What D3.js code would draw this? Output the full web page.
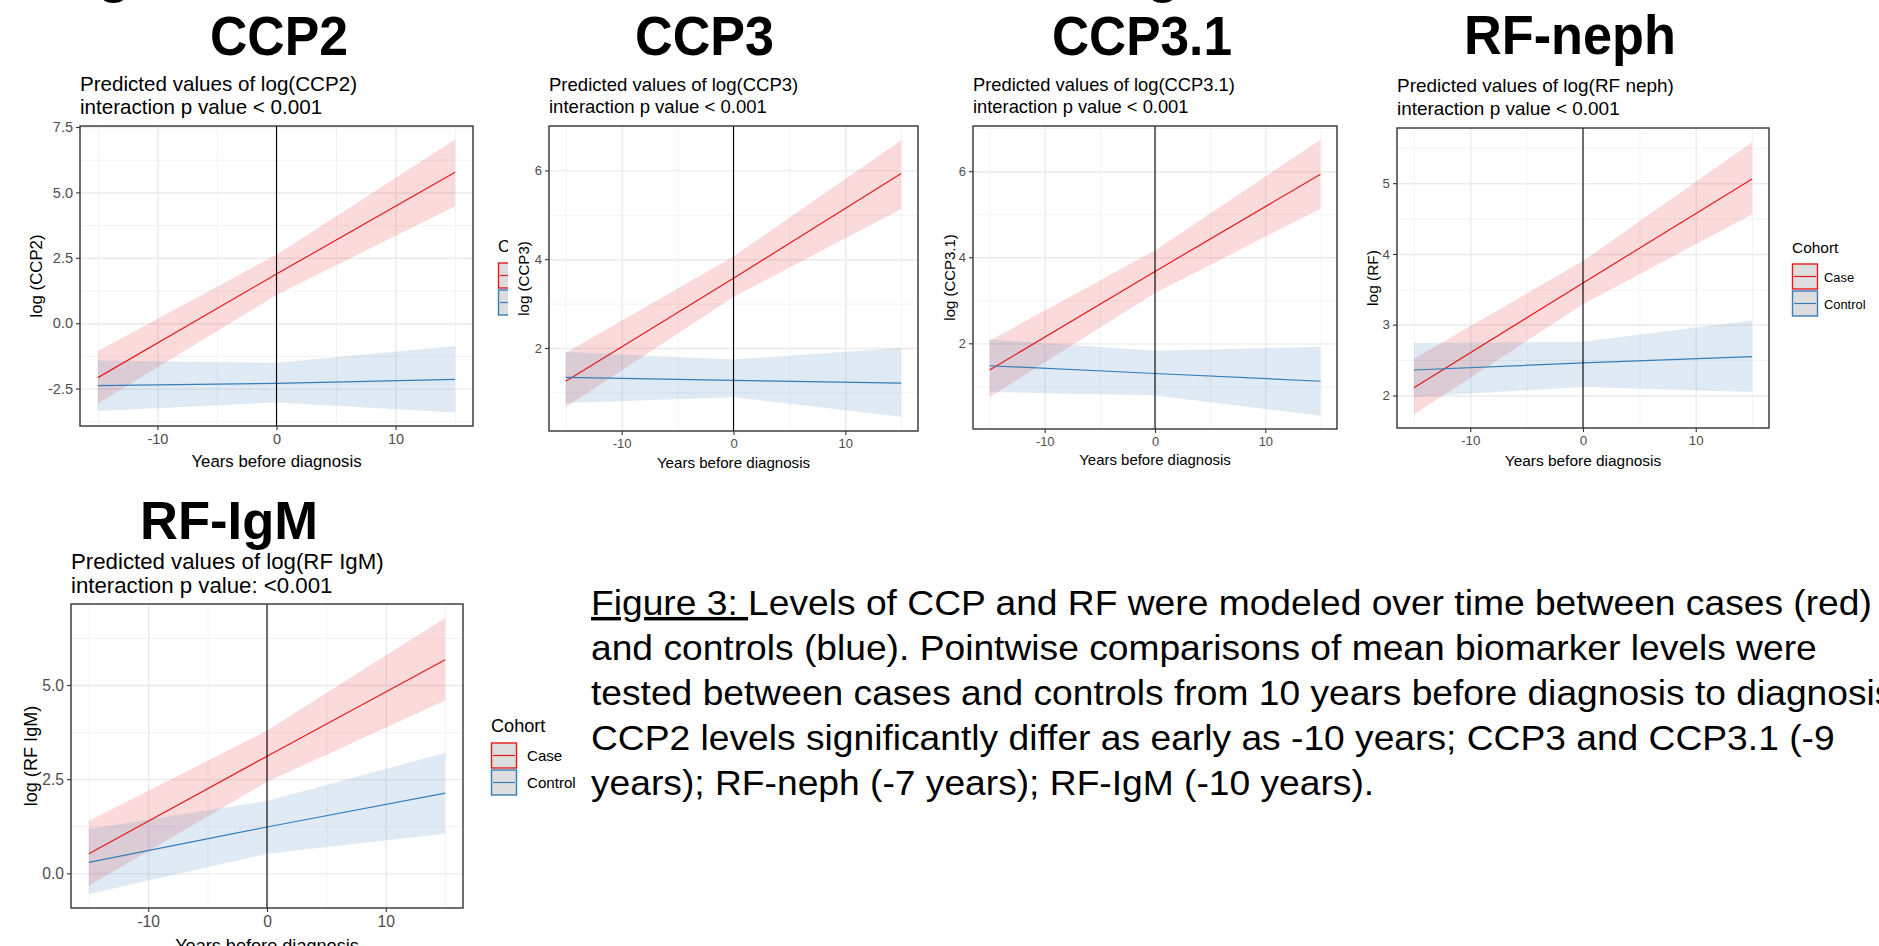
<!DOCTYPE html>
<html>
<head>
<meta charset="utf-8">
<script src="https://cdn.jsdelivr.net/npm/d3@7"></script>
<style>
  body { margin: 0; background: #fff; }
  text { font-family: "Liberation Sans", Arial, sans-serif; }
</style>
</head>
<body>
<div id="chart"></div>
<script>
const years = [-15, 0, 15];
const xTicks = [-10, 0, 10];
const xMinor = [-15, -5, 5, 15];

// CCP2
const ccp2CaseFit = [-2.08, 1.88, 5.77];
const ccp2CaseLow = [-3.07, 1.08, 4.47];
const ccp2CaseHigh = [-1.06, 2.62, 7.02];
const ccp2CtrlFit = [-2.39, -2.30, -2.15];
const ccp2CtrlLow = [-3.36, -3.03, -3.41];
const ccp2CtrlHigh = [-1.43, -1.51, -0.87];
const ccp2Ticks = [-2.5, 0, 2.5, 5, 7.5];
const ccp2Minor = [-3.75, -1.25, 1.25, 3.75, 6.25];

// CCP3
const ccp3CaseFit = [1.25, 3.57, 5.93];
const ccp3CaseLow = [0.67, 3.15, 5.13];
const ccp3CaseHigh = [1.89, 4.06, 6.68];
const ccp3CtrlFit = [1.34, 1.27, 1.21];
const ccp3CtrlLow = [0.76, 0.89, 0.45];
const ccp3CtrlHigh = [1.91, 1.74, 2.00];
const ccp3Ticks = [2, 4, 6];
const ccp3Minor = [1, 3, 5, 7];

// CCP3.1
const ccp31CaseFit = [1.38, 3.67, 5.93];
const ccp31CaseLow = [0.75, 3.17, 5.13];
const ccp31CaseHigh = [2.06, 4.16, 6.73];
const ccp31CtrlFit = [1.48, 1.30, 1.12];
const ccp31CtrlLow = [0.87, 0.79, 0.32];
const ccp31CtrlHigh = [2.09, 1.83, 1.92];
const ccp31Ticks = [2, 4, 6];
const ccp31Minor = [1, 3, 5, 7];

// RF-neph
const rfnCaseFit = [2.11, 3.59, 5.06];
const rfnCaseLow = [1.73, 3.29, 4.56];
const rfnCaseHigh = [2.52, 3.90, 5.58];
const rfnCtrlFit = [2.36, 2.46, 2.55];
const rfnCtrlLow = [1.98, 2.12, 2.05];
const rfnCtrlHigh = [2.74, 2.76, 3.06];
const rfnTicks = [2, 3, 4, 5];
const rfnMinor = [2.5, 3.5, 4.5, 5.5];

// RF-IgM
const rfmCaseFit = [0.52, 3.11, 5.67];
const rfmCaseLow = [-0.33, 2.43, 4.59];
const rfmCaseHigh = [1.39, 3.79, 6.78];
const rfmCtrlFit = [0.29, 1.23, 2.13];
const rfmCtrlLow = [-0.55, 0.52, 1.05];
const rfmCtrlHigh = [1.18, 1.92, 3.20];
const rfmTicks = [0, 2.5, 5];
const rfmMinor = [1.25, 3.75, 6.25];

const cohorts = ['Case', 'Control'];
const captionLines = [
    'Levels of CCP and RF were modeled over time between cases (red)',
    'and controls (blue). Pointwise comparisons of mean biomarker levels were',
    'tested between cases and controls from 10 years before diagnosis to diagnosis.',
    'CCP2 levels significantly differ as early as -10 years; CCP3 and CCP3.1 (-9',
    'years); RF-neph (-7 years); RF-IgM (-10 years).'
];

const RED = '#E41A1C', BLUE = '#377EB8';

const svg = d3.select('#chart').append('svg')
    .attr('width', 1879).attr('height', 946)
    .style('display', 'block');
svg.append('rect').attr('width', 1879).attr('height', 946).attr('fill', '#fff');

// bits of the cut-off heading above the figure (only descenders show)
[114, 1163].forEach(cx => {
    svg.append('text').attr('x', cx).attr('y', -9).attr('text-anchor', 'middle')
        .style('font-size', '55px').style('font-weight', 'bold').text('g');
});

const hy = v => String(v).replace('\u2212', '-');
const fmt1 = d => hy(d3.format('.1f')(d));
const fmt0 = d => hy(d3.format('d')(d));

function zip(fit, low, high) {
    return years.map((yr, i) => ({ yr, fit: fit[i], low: low[i], high: high[i] }));
}

function drawPanel(p) {
    const k = p.k;
    const x = d3.scaleLinear().domain([-16.5, 16.5]).range([p.left, p.right]);
    const y = d3.scaleLinear().domain(p.yDomain).range([p.bottom, p.top]);
    const w = p.right - p.left, h = p.bottom - p.top;
    const g = svg.append('g');

    g.append('rect').attr('x', p.left).attr('y', p.top).attr('width', w).attr('height', h).attr('fill', '#fff');

    // gridlines: minor then major
    const gridY = (vals, col, sw) => g.append('g').attr('transform', `translate(${p.left},0)`)
        .call(d3.axisLeft(y).tickValues(vals.filter(v => v >= p.yDomain[0] && v <= p.yDomain[1])).tickSize(-w).tickFormat(''))
        .call(s => s.select('.domain').remove())
        .selectAll('line').attr('stroke', col).attr('stroke-width', sw);
    const gridX = (vals, col, sw) => g.append('g').attr('transform', `translate(0,${p.bottom})`)
        .call(d3.axisBottom(x).tickValues(vals).tickSize(-h).tickFormat(''))
        .call(s => s.select('.domain').remove())
        .selectAll('line').attr('stroke', col).attr('stroke-width', sw);
    gridY(p.yMinor, '#F2F2F2', 1);
    gridX(xMinor, '#F2F2F2', 1);
    gridY(p.yTicks, '#EBEBEB', 1.4);
    gridX(xTicks, '#EBEBEB', 1.4);

    const area = d3.area().x(d => x(d.yr)).y0(d => y(d.low)).y1(d => y(d.high));
    const line = d3.line().x(d => x(d.yr)).y(d => y(d.fit));
    const series = [
        { data: zip(p.caseFit, p.caseLow, p.caseHigh), col: RED },
        { data: zip(p.ctrlFit, p.ctrlLow, p.ctrlHigh), col: BLUE }
    ];
    series.forEach(s => {
        g.append('path').datum(s.data).attr('d', area).attr('fill', s.col).attr('fill-opacity', 0.16);
    });
    series.forEach(s => {
        g.append('path').datum(s.data).attr('d', line).attr('fill', 'none')
            .attr('stroke', s.col).attr('stroke-width', 1.2);
    });

    // vertical line at diagnosis
    g.append('line').attr('x1', x(0)).attr('x2', x(0)).attr('y1', p.top).attr('y2', p.bottom)
        .attr('stroke', '#000').attr('stroke-width', 1.1);

    // axes
    const ax = g.append('g').attr('transform', `translate(${p.left},0)`)
        .call(d3.axisLeft(y).tickValues(p.yTicks).tickSize(4).tickPadding(3).tickFormat(p.fmt));
    const bx = g.append('g').attr('transform', `translate(0,${p.bottom})`)
        .call(d3.axisBottom(x).tickValues(xTicks).tickSize(4).tickPadding(4).tickFormat(fmt0));
    [ax, bx].forEach(a => {
        a.select('.domain').remove();
        a.selectAll('line').attr('stroke', '#333').attr('stroke-width', 1.1);
        a.selectAll('text').attr('fill', '#4D4D4D').style('font-size', (14.5 * k) + 'px')
            .style('font-family', '"Liberation Sans", Arial, sans-serif');
    });

    g.append('rect').attr('x', p.left).attr('y', p.top).attr('width', w).attr('height', h)
        .attr('fill', 'none').attr('stroke', '#333').attr('stroke-width', 1.4);

    // titles
    g.append('text').attr('x', (p.left + p.right) / 2).attr('y', p.bottom + 41 * k).attr('text-anchor', 'middle')
        .style('font-size', (16.8 * k) + 'px').attr('fill', '#000').text('Years before diagnosis');
    g.append('text').attr('transform', `translate(${p.yTitleX},${(p.top + p.bottom) / 2}) rotate(-90)`)
        .attr('text-anchor', 'middle').style('font-size', (16.8 * k) + 'px').text(p.yTitle);
    p.subtitle.forEach((t, i) => {
        g.append('text').attr('x', p.left).attr('y', p.subY + i * p.subGap)
            .style('font-size', (20.6 * k) + 'px').text(t);
    });
    g.append('text').attr('x', p.bigX - p.bigW / 2).attr('y', p.bigY)
        .attr('textLength', p.bigW).attr('lengthAdjust', 'spacingAndGlyphs')
        .style('font-size', p.bigSize + 'px').style('font-weight', 'bold').text(p.big);
}

function drawLegend(lx, ly, k, labelDx, clipW) {
    const g = svg.append('g');
    if (clipW) {
        // only the left edge of this legend shows from behind the next plot
        svg.append('clipPath').attr('id', 'legclip').append('rect')
            .attr('x', lx - 5).attr('y', ly - 30).attr('width', clipW + 5).attr('height', 120);
        g.attr('clip-path', 'url(#legclip)');
    }
    g.append('text').attr('x', lx).attr('y', ly).style('font-size', (16.8 * k) + 'px')
        .text(clipW ? 'C' : 'Cohort');
    cohorts.forEach((c, i) => {
        const ky = ly + 11 + i * 27;
        const col = i === 0 ? RED : BLUE;
        g.append('rect').attr('x', lx + 0.5).attr('y', ky).attr('width', 25).attr('height', 25)
            .attr('fill', '#DDDDDD').attr('stroke', col).attr('stroke-width', 1.4);
        g.append('line').attr('x1', lx + 2).attr('x2', lx + 24).attr('y1', ky + 12.5).attr('y2', ky + 12.5)
            .attr('stroke', col).attr('stroke-width', 1.2);
        if (!clipW) {
            g.append('text').attr('x', lx + labelDx).attr('y', ky + 17.5).style('font-size', (14 * k) + 'px').text(c);
        }
    });
}

// legend of the CCP2 plot, mostly hidden behind the CCP3 plot
drawLegend(498, 252, 1, 34, 10);

drawPanel({
    k: 1, left: 80, right: 473, top: 126, bottom: 426, yDomain: [-3.93, 7.54],
    yTicks: ccp2Ticks, yMinor: ccp2Minor, fmt: fmt1,
    caseFit: ccp2CaseFit, caseLow: ccp2CaseLow, caseHigh: ccp2CaseHigh,
    ctrlFit: ccp2CtrlFit, ctrlLow: ccp2CtrlLow, ctrlHigh: ccp2CtrlHigh,
    yTitle: 'log (CCP2)', yTitleX: 42,
    subtitle: ['Predicted values of log(CCP2)', 'interaction p value < 0.001'], subY: 91, subGap: 22.5,
    big: 'CCP2', bigX: 279, bigY: 55, bigW: 138, bigSize: 55
});
drawPanel({
    k: 0.9, left: 549, right: 918, top: 126, bottom: 431, yDomain: [0.13, 7.0],
    yTicks: ccp3Ticks, yMinor: ccp3Minor, fmt: fmt0,
    caseFit: ccp3CaseFit, caseLow: ccp3CaseLow, caseHigh: ccp3CaseHigh,
    ctrlFit: ccp3CtrlFit, ctrlLow: ccp3CtrlLow, ctrlHigh: ccp3CtrlHigh,
    yTitle: 'log (CCP3)', yTitleX: 529,
    subtitle: ['Predicted values of log(CCP3)', 'interaction p value < 0.001'], subY: 91, subGap: 22,
    big: 'CCP3', bigX: 704.5, bigY: 55, bigW: 139, bigSize: 55
});
drawPanel({
    k: 0.89, left: 973, right: 1337, top: 126, bottom: 429, yDomain: [0.01, 7.05],
    yTicks: ccp31Ticks, yMinor: ccp31Minor, fmt: fmt0,
    caseFit: ccp31CaseFit, caseLow: ccp31CaseLow, caseHigh: ccp31CaseHigh,
    ctrlFit: ccp31CtrlFit, ctrlLow: ccp31CtrlLow, ctrlHigh: ccp31CtrlHigh,
    yTitle: 'log (CCP3.1)', yTitleX: 955,
    subtitle: ['Predicted values of log(CCP3.1)', 'interaction p value < 0.001'], subY: 91, subGap: 22,
    big: 'CCP3.1', bigX: 1142, bigY: 55, bigW: 180, bigSize: 55
});
drawPanel({
    k: 0.92, left: 1397, right: 1769, top: 128, bottom: 428, yDomain: [1.54, 5.78],
    yTicks: rfnTicks, yMinor: rfnMinor, fmt: fmt0,
    caseFit: rfnCaseFit, caseLow: rfnCaseLow, caseHigh: rfnCaseHigh,
    ctrlFit: rfnCtrlFit, ctrlLow: rfnCtrlLow, ctrlHigh: rfnCtrlHigh,
    yTitle: 'log (RF)', yTitleX: 1378,
    subtitle: ['Predicted values of log(RF neph)', 'interaction p value < 0.001'], subY: 92, subGap: 23,
    big: 'RF-neph', bigX: 1570, bigY: 54, bigW: 212, bigSize: 55
});
drawLegend(1792, 253, 0.92, 32, 0);

drawPanel({
    k: 1.08, left: 71, right: 463, top: 604, bottom: 908, yDomain: [-0.92, 7.15],
    yTicks: rfmTicks, yMinor: rfmMinor, fmt: fmt1,
    caseFit: rfmCaseFit, caseLow: rfmCaseLow, caseHigh: rfmCaseHigh,
    ctrlFit: rfmCtrlFit, ctrlLow: rfmCtrlLow, ctrlHigh: rfmCtrlHigh,
    yTitle: 'log (RF IgM)', yTitleX: 37,
    subtitle: ['Predicted values of log(RF IgM)', 'interaction p value: <0.001'], subY: 569, subGap: 24,
    big: 'RF-IgM', bigX: 229, bigY: 539, bigW: 178, bigSize: 53
});
drawLegend(491, 732, 1.08, 36, 0);

// caption, stretched to the width it has in the picture
const cap = svg.append('g');
const capLines = captionLines.map((t, i) => {
    const tx = cap.append('text').attr('x', 0).attr('y', 615 + i * 45).style('font-size', '35px');
    if (i === 0) {
        tx.append('tspan').style('text-decoration', 'underline').text('Figure 3:\u00A0');
    }
    tx.append('tspan').text(t);
    return tx;
});
const sx = 1281 / capLines[0].node().getComputedTextLength();
cap.attr('transform', `translate(591,0) scale(${sx},1)`);
</script>
</body>
</html>
